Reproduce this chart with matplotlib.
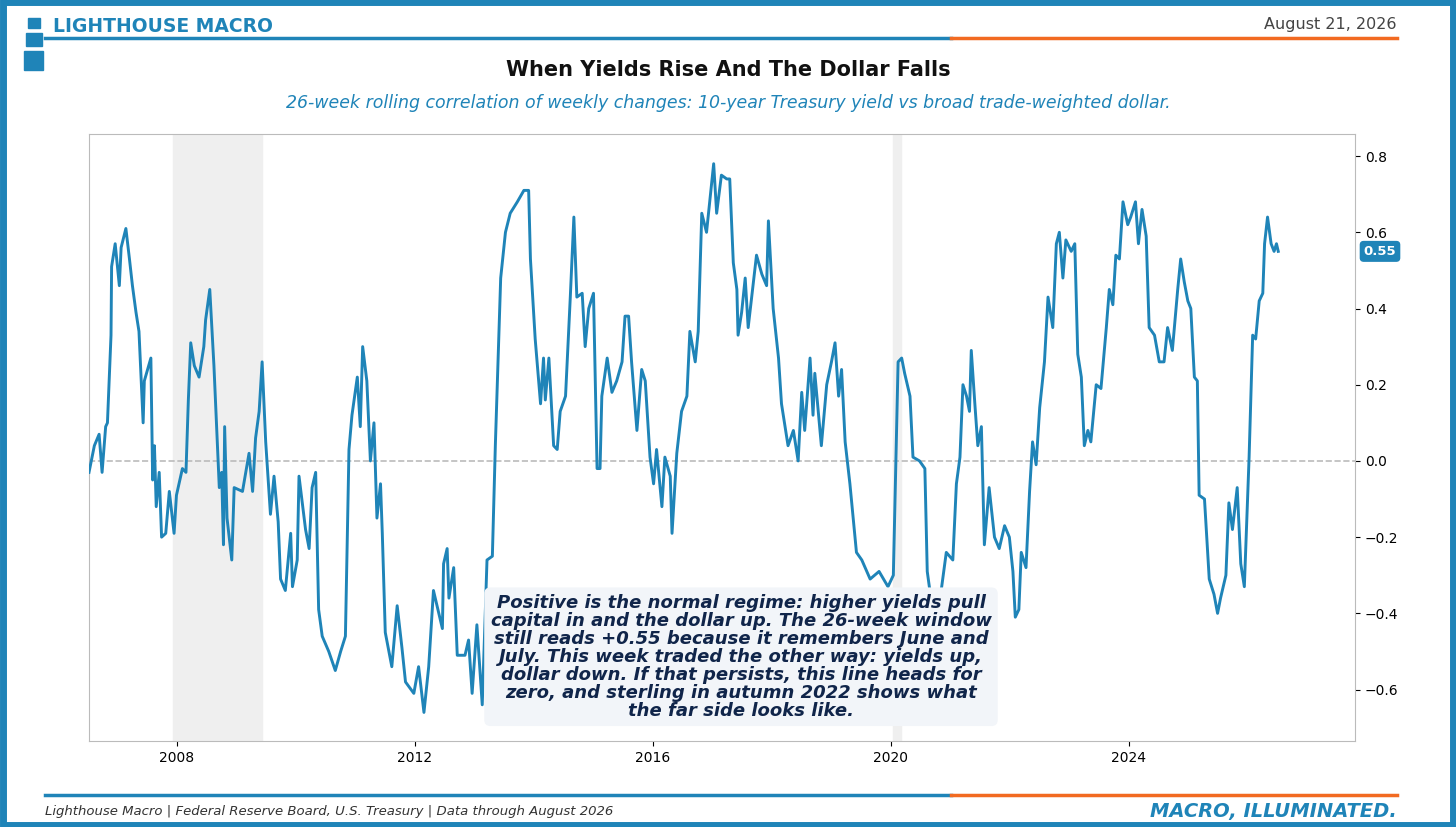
import matplotlib.pyplot as plt
from matplotlib.patches import Rectangle
from matplotlib.lines import Line2D

# turning points: (decimal year, correlation)
points = [
    (2006.52, -0.03), (2006.61, 0.04), (2006.69, 0.07), (2006.74, -0.03), (2006.80, 0.09),
    (2006.83, 0.10), (2006.89, 0.33), (2006.90, 0.51), (2006.96, 0.57), (2007.03, 0.46),
    (2007.06, 0.56), (2007.14, 0.61), (2007.20, 0.53), (2007.25, 0.46), (2007.31, 0.39),
    (2007.36, 0.34), (2007.43, 0.10), (2007.45, 0.21), (2007.56, 0.27), (2007.59, -0.05),
    (2007.62, 0.04), (2007.65, -0.12), (2007.70, -0.03), (2007.74, -0.20), (2007.81, -0.19),
    (2007.87, -0.08), (2007.95, -0.19), (2007.99, -0.09), (2008.09, -0.02), (2008.15, -0.03),
    (2008.19, 0.16), (2008.23, 0.31), (2008.29, 0.25), (2008.37, 0.22), (2008.45, 0.30),
    (2008.48, 0.37), (2008.55, 0.45), (2008.62, 0.25), (2008.71, -0.07), (2008.75, -0.03),
    (2008.78, -0.22), (2008.80, 0.09), (2008.84, -0.15), (2008.92, -0.26), (2008.96, -0.07),
    (2009.10, -0.08), (2009.21, 0.02), (2009.27, -0.08), (2009.32, 0.06), (2009.38, 0.13),
    (2009.43, 0.26), (2009.49, 0.05), (2009.57, -0.14), (2009.63, -0.04), (2009.70, -0.16),
    (2009.74, -0.31), (2009.82, -0.34), (2009.91, -0.19), (2009.94, -0.33), (2010.02, -0.26),
    (2010.05, -0.04), (2010.16, -0.18), (2010.22, -0.23), (2010.27, -0.07), (2010.33, -0.03),
    (2010.38, -0.39), (2010.44, -0.46), (2010.55, -0.50), (2010.66, -0.55), (2010.75, -0.50),
    (2010.83, -0.46), (2010.89, 0.03), (2010.94, 0.12), (2011.03, 0.22), (2011.08, 0.09),
    (2011.12, 0.30), (2011.19, 0.21), (2011.25, 0.00), (2011.31, 0.10), (2011.36, -0.15),
    (2011.42, -0.06), (2011.45, -0.19), (2011.50, -0.45), (2011.61, -0.54), (2011.70, -0.38),
    (2011.78, -0.49), (2011.84, -0.58), (2011.98, -0.61), (2012.06, -0.54), (2012.15, -0.66),
    (2012.23, -0.54), (2012.31, -0.34), (2012.46, -0.44), (2012.48, -0.27), (2012.54, -0.23),
    (2012.57, -0.36), (2012.65, -0.28), (2012.71, -0.51), (2012.84, -0.51), (2012.90, -0.47),
    (2012.96, -0.61), (2013.04, -0.43), (2013.13, -0.64), (2013.21, -0.26), (2013.30, -0.25),
    (2013.35, 0.04), (2013.44, 0.48), (2013.52, 0.60), (2013.60, 0.65), (2013.72, 0.68),
    (2013.83, 0.71), (2013.91, 0.71), (2013.94, 0.53), (2014.02, 0.32), (2014.11, 0.15),
    (2014.16, 0.27), (2014.19, 0.16), (2014.25, 0.27), (2014.33, 0.04), (2014.39, 0.03),
    (2014.44, 0.13), (2014.53, 0.17), (2014.61, 0.43), (2014.67, 0.64), (2014.72, 0.43),
    (2014.81, 0.44), (2014.86, 0.30), (2014.92, 0.40), (2015.00, 0.44), (2015.06, -0.02),
    (2015.11, -0.02), (2015.14, 0.17), (2015.23, 0.27), (2015.31, 0.18), (2015.39, 0.21),
    (2015.48, 0.26), (2015.53, 0.38), (2015.59, 0.38), (2015.64, 0.26), (2015.73, 0.08),
    (2015.81, 0.24), (2015.87, 0.21), (2015.95, 0.01), (2016.01, -0.06), (2016.06, 0.03),
    (2016.15, -0.12), (2016.20, 0.01), (2016.29, -0.04), (2016.32, -0.19), (2016.40, 0.02),
    (2016.48, 0.13), (2016.57, 0.17), (2016.62, 0.34), (2016.71, 0.26), (2016.76, 0.34),
    (2016.82, 0.65), (2016.90, 0.60), (2017.02, 0.78), (2017.07, 0.65), (2017.15, 0.75),
    (2017.24, 0.74), (2017.29, 0.74), (2017.35, 0.52), (2017.41, 0.45), (2017.43, 0.33),
    (2017.49, 0.39), (2017.55, 0.48), (2017.60, 0.35), (2017.74, 0.54), (2017.83, 0.49),
    (2017.91, 0.46), (2017.94, 0.63), (2018.02, 0.40), (2018.11, 0.27), (2018.16, 0.15),
    (2018.22, 0.09), (2018.27, 0.04), (2018.36, 0.08), (2018.44, 0.00), (2018.50, 0.18),
    (2018.55, 0.08), (2018.64, 0.27), (2018.69, 0.12), (2018.72, 0.23), (2018.83, 0.04),
    (2018.92, 0.20), (2019.00, 0.26), (2019.06, 0.31), (2019.12, 0.17), (2019.17, 0.24),
    (2019.23, 0.05), (2019.31, -0.06), (2019.42, -0.24), (2019.51, -0.26), (2019.65, -0.31),
    (2019.80, -0.29), (2019.95, -0.33), (2020.04, -0.30), (2020.12, 0.26), (2020.18, 0.27),
    (2020.23, 0.23), (2020.32, 0.17), (2020.37, 0.01), (2020.48, 0.00), (2020.57, -0.02),
    (2020.61, -0.29), (2020.75, -0.45), (2020.93, -0.24), (2021.04, -0.26), (2021.10, -0.06),
    (2021.16, 0.01), (2021.21, 0.20), (2021.27, 0.17), (2021.32, 0.13), (2021.35, 0.29),
    (2021.41, 0.15), (2021.46, 0.04), (2021.52, 0.09), (2021.57, -0.22), (2021.65, -0.07),
    (2021.74, -0.20), (2021.82, -0.23), (2021.91, -0.17), (2021.99, -0.20), (2022.05, -0.29),
    (2022.09, -0.41), (2022.15, -0.39), (2022.19, -0.24), (2022.27, -0.28), (2022.33, -0.08),
    (2022.38, 0.05), (2022.44, -0.01), (2022.50, 0.14), (2022.58, 0.26), (2022.64, 0.43),
    (2022.72, 0.35), (2022.78, 0.57), (2022.83, 0.60), (2022.89, 0.48), (2022.94, 0.58),
    (2023.03, 0.55), (2023.09, 0.57), (2023.14, 0.28), (2023.20, 0.22), (2023.25, 0.04),
    (2023.31, 0.08), (2023.36, 0.05), (2023.45, 0.20), (2023.53, 0.19), (2023.62, 0.35),
    (2023.67, 0.45), (2023.73, 0.41), (2023.78, 0.54), (2023.84, 0.53), (2023.90, 0.68),
    (2023.98, 0.62), (2024.03, 0.64), (2024.11, 0.68), (2024.16, 0.57), (2024.22, 0.66),
    (2024.29, 0.59), (2024.34, 0.35), (2024.43, 0.33), (2024.51, 0.26), (2024.59, 0.26),
    (2024.65, 0.35), (2024.73, 0.29), (2024.82, 0.45), (2024.87, 0.53), (2024.93, 0.47),
    (2024.99, 0.42), (2025.04, 0.40), (2025.10, 0.22), (2025.15, 0.21), (2025.18, -0.09),
    (2025.27, -0.10), (2025.35, -0.31), (2025.43, -0.35), (2025.49, -0.40), (2025.54, -0.36),
    (2025.63, -0.30), (2025.68, -0.11), (2025.74, -0.18), (2025.82, -0.07), (2025.88, -0.27),
    (2025.94, -0.33), (2026.02, 0.01), (2026.08, 0.33), (2026.13, 0.32), (2026.19, 0.42),
    (2026.25, 0.44), (2026.28, 0.57), (2026.33, 0.64), (2026.39, 0.57), (2026.44, 0.55),
    (2026.48, 0.57), (2026.51, 0.55),
]
years = [p[0] for p in points]
corr = [p[1] for p in points]
recessions = [(2007.93, 2009.43), (2020.03, 2020.17)]
xticks = [2008, 2012, 2016, 2020, 2024]
yticks = [-0.6, -0.4, -0.2, 0.0, 0.2, 0.4, 0.6, 0.8]

BLUE = '#1f84b8'
ORANGE = '#f26a21'
NAVY = '#10254a'

fig = plt.figure(figsize=(14.56, 8.27), dpi=100)
W, H = 1456, 827
def fx(px): return px / W
def fy(py): return 1 - py / H

# outer border
fig.patches.append(Rectangle((0.002, 0.003), 0.996, 0.994, transform=fig.transFigure,
                             fill=False, edgecolor=BLUE, linewidth=5))

# header
fig.text(fx(53), fy(27), 'LIGHTHOUSE MACRO', color=BLUE, fontsize=13.5, fontweight='bold', va='center')
fig.text(fx(1397), fy(25), 'August 21, 2026', color='#444444', fontsize=11.5, ha='right', va='center')
for y in (38, 795):
    fig.add_artist(Line2D([fx(45), fx(951)], [fy(y), fy(y)], color=BLUE, lw=2.5))
    fig.add_artist(Line2D([fx(951), fx(1397)], [fy(y), fy(y)], color=ORANGE, lw=2.5))
# small lighthouse mark
for top, bot, w in ((18, 28, 12), (33, 46, 16), (51, 70, 19)):
    fig.patches.append(Rectangle((fx(24 + (19 - w) / 2), fy(bot)), fx(w), fy(top) - fy(bot),
                                 transform=fig.transFigure, color=BLUE, zorder=5))

fig.text(0.5, fy(70), 'When Yields Rise And The Dollar Falls', ha='center', va='center',
         fontsize=15, fontweight='bold', color='#111111')
fig.text(0.5, fy(103), '26-week rolling correlation of weekly changes: 10-year Treasury yield vs broad trade-weighted dollar.',
         ha='center', va='center', fontsize=12.5, style='italic', color=BLUE)

# footer
fig.text(fx(45), fy(811), 'Lighthouse Macro | Federal Reserve Board, U.S. Treasury | Data through August 2026',
         fontsize=9.5, style='italic', color='#333333', va='center')
fig.text(fx(1397), fy(811), 'MACRO, ILLUMINATED.', fontsize=14, style='italic', fontweight='bold',
         color=BLUE, ha='right', va='center')

ax = fig.add_axes([fx(89), fy(741), fx(1355) - fx(89), fy(134) - fy(741)])
for a, b in recessions:
    ax.axvspan(a, b, color='#efefef', zorder=0)
ax.axhline(0, color='#bbbbbb', ls='--', lw=1.2, zorder=1)
ax.plot(years, corr, color=BLUE, lw=2.1, zorder=3)
ax.set_xlim(2006.52, 2027.8)
ax.set_ylim(-0.735, 0.858)
ax.set_xticks(xticks)
ax.set_xticklabels([str(t) for t in xticks])
ax.set_yticks(yticks)
ax.set_yticklabels([f'{t:.1f}'.replace('-', '\u2212') for t in yticks])
ax.yaxis.tick_right()
ax.yaxis.set_label_position('right')
ax.set_ylabel('26-week correlation', fontsize=10, labelpad=70)
ax.tick_params(labelsize=10)
for s in ax.spines.values():
    s.set_color('#bbbbbb')

ax.annotate(f'{corr[-1]:.2f}', xy=(1.0, corr[-1]), xycoords=('axes fraction', 'data'),
            xytext=(18, 0), textcoords='offset points', ha='center', va='center',
            fontsize=9.5, fontweight='bold', color='white',
            bbox=dict(boxstyle='round,pad=0.25', fc=BLUE, ec=BLUE))

ax.text(0.515, 0.035,
        'Positive is the normal regime: higher yields pull\ncapital in and the dollar up. The 26-week window\n'
        'still reads +0.55 because it remembers June and\nJuly. This week traded the other way: yields up,\n'
        'dollar down. If that persists, this line heads for\nzero, and sterling in autumn 2022 shows what\n'
        'the far side looks like.',
        transform=ax.transAxes, ha='center', va='bottom', fontsize=13, fontweight='bold',
        style='italic', color=NAVY, linespacing=1.0, zorder=5,
        bbox=dict(boxstyle='round,pad=0.35', fc='#f2f5f9', ec='none'))

fig.savefig('out.png', dpi=100)
